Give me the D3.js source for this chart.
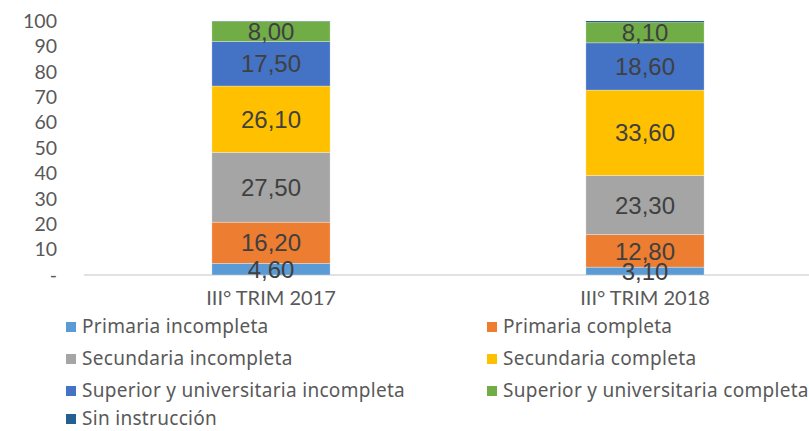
<!DOCTYPE html>
<html><head><meta charset="utf-8">
<script src="https://cdn.jsdelivr.net/npm/d3@7"></script>
<style>body{margin:0;background:#fff}svg{display:block}</style>
</head><body>
<svg id="chart" width="809" height="431"></svg>
<script>
const categories = ["III° TRIM 2017", "III° TRIM 2018"];
const seriesNames = ["Primaria incompleta","Primaria completa","Secundaria incompleta","Secundaria completa","Superior y universitaria incompleta","Superior y universitaria completa","Sin instrucción"];
const primariaIncompleta = [4.60, 3.10];
const primariaCompleta = [16.20, 12.80];
const secundariaIncompleta = [27.50, 23.30];
const secundariaCompleta = [26.10, 33.60];
const superiorIncompleta = [17.50, 18.60];
const superiorCompleta = [8.00, 8.10];
const sinInstruccion = [0.10, 0.50];
const yTicks = [0,10,20,30,40,50,60,70,80,90,100];
const colors = ["#5B9BD5","#ED7D31","#A5A5A5","#FFC000","#4472C4","#70AD47","#255E91"];
const showLabel = [true,true,true,true,true,true,false];

const seriesValues = [primariaIncompleta,primariaCompleta,secundariaIncompleta,secundariaCompleta,superiorIncompleta,superiorCompleta,sinInstruccion];
const rows = categories.map((c,i)=>{const r={cat:c}; seriesNames.forEach((s,j)=>r[s]=seriesValues[j][i]); return r;});
const stack = d3.stack().keys(seriesNames)(rows);

const svg = d3.select("#chart");
const x = d3.scaleBand().domain(categories).range([84,832]).paddingInner(0).paddingOuter(0);
const y = d3.scaleLinear().domain([0,100]).range([275,21]);
const barW = x.bandwidth()*0.316;

// baseline
svg.append("line").attr("x1",84).attr("x2",809).attr("y1",y(0)).attr("y2",y(0))
  .attr("stroke","#D9D9D9").attr("stroke-width",1.3);

const fmt = v => v.toFixed(2).replace(".", ",");

stack.forEach((layer,j)=>{
  const g = svg.append("g");
  g.selectAll("rect").data(layer).join("rect")
    .attr("x", d=>x(d.data.cat)+x.bandwidth()/2-barW/2)
    .attr("width", barW)
    .attr("y", d=>y(d[1]))
    .attr("height", d=>y(d[0])-y(d[1]))
    .attr("fill", colors[j])
    .attr("stroke", j===6 ? "none" : "#fff").attr("stroke-width",0.6).attr("stroke-opacity",0.5);
});
stack.forEach((layer,j)=>{
  if(!showLabel[j]) return;
  svg.append("g").selectAll("text").data(layer).join("text")
    .attr("x", d=>x(d.data.cat)+x.bandwidth()/2)
    .attr("y", d=>(y(d[0])+y(d[1]))/2)
    .attr("dy","0.36em")
    .attr("text-anchor","middle")
    .attr("font-family","Liberation Sans, Arial, sans-serif")
    .attr("font-size",24)
    .attr("fill","#404040")
    .text(d=>fmt(d[1]-d[0]));
});

// y axis labels
const yAxis = d3.axisLeft(y).tickValues(yTicks).tickSize(0).tickPadding(0)
  .tickFormat(d=> d===0 ? "-" : d);
const ya = svg.append("g").attr("transform","translate(57,0)").call(yAxis);
ya.select(".domain").remove();
ya.selectAll("text").attr("font-family","Lato, sans-serif").attr("font-size",19.5).attr("fill","#595959");

// x axis labels
const xAxis = d3.axisBottom(x).tickSize(0).tickPadding(0);
const xa = svg.append("g").attr("transform","translate(0,291)").call(xAxis);
xa.select(".domain").remove();
xa.selectAll("text").attr("font-family","Lato, sans-serif").attr("font-size",20).attr("fill","#595959");

// legend
const legPos = [[66,327],[487,327],[66,359],[487,359],[66,391],[487,391],[66,419]];
const leg = svg.append("g");
seriesNames.forEach((s,j)=>{
  const [lx,ly]=legPos[j];
  leg.append("rect").attr("x",lx).attr("y",ly-5).attr("width",10).attr("height",10).attr("fill",colors[j]);
  leg.append("text").attr("x",lx+16).attr("y",ly).attr("dy","0.34em")
    .attr("font-family","Noto Sans, sans-serif").attr("font-size",19).attr("letter-spacing",0.3)
    .attr("fill","#595959").text(s);
});
</script>
</body></html>
